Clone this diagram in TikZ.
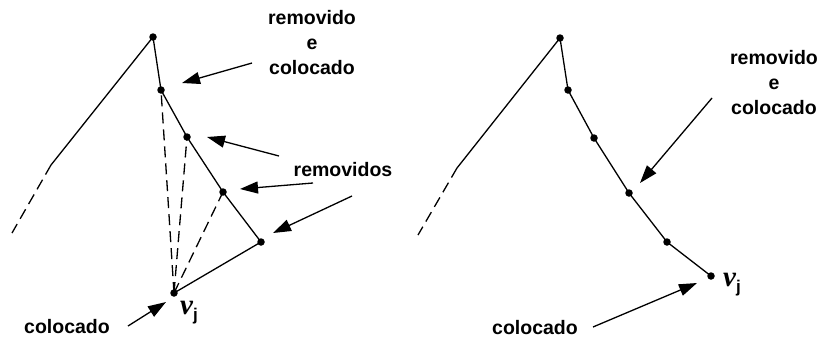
\documentclass[tikz,border=0pt]{standalone}
\usepackage{fontspec}
\setmainfont{Liberation Sans}
\newfontfamily\vjserif{Liberation Serif}
\usetikzlibrary{arrows.meta}
\tikzset{
  dot/.style={circle,fill=black,inner sep=0pt,minimum size=7.5pt},
  edge/.style={line width=1.3pt},
  dashedge/.style={line width=1.3pt,dash pattern=on 11pt off 6pt},
  pointer/.style={line width=1.3pt,-{Triangle[length=18pt,width=12pt]}},
  lbl/.style={font=\fontsize{19.5}{25}\selectfont\bfseries,align=center,inner sep=0pt},
  vlbl/.style={inner sep=0pt}
}
\newcommand{\vjlabel}{{\vjserif\fontsize{29}{29}\selectfont\bfseries\itshape v}\raisebox{-6pt}{\fontsize{17}{17}\selectfont\bfseries j}}
\begin{document}
\begin{tikzpicture}[x=1pt,y=-1pt]
\useasboundingbox (0,0) rectangle (818,338);
% ---------- left ----------
\node[dot] (la) at (153,37) {};
\node[dot] (lb) at (161,90) {};
\node[dot] (lc) at (187,137) {};
\node[dot] (ld) at (223,192) {};
\node[dot] (le) at (261,242) {};
\node[dot] (lv) at (174,293) {};
\coordinate (lk) at (51,165);
\coordinate (lt) at (12,233);
\draw[edge] (la.center) -- (lk);
\draw[dashedge] (lk) -- (lt);
\draw[edge] (la.center) -- (lb.center) -- (lc.center) -- (ld.center) -- (le.center) -- (lv.center);
\draw[dashedge] (lv.center) -- (lb.center);
\draw[dashedge] (lv.center) -- (lc.center);
\draw[dashedge] (lv.center) -- (ld.center);
\node[lbl] (ltop) at (312,43) {removido\\e\\colocado};
\node[lbl] (lrem) at (343,170) {removidos};
\node[lbl] (lcol) at (67,327) {colocado};
\node[vlbl] (lvj) at (189,313) {\vjlabel};
\coordinate (a1s) at (252,63);  \coordinate (a1e) at (182,83);
\coordinate (a2s) at (279,156); \coordinate (a2e) at (207,137);
\coordinate (a3s) at (313,183); \coordinate (a3e) at (240,189);
\coordinate (a4s) at (352,196); \coordinate (a4e) at (273,233);
\coordinate (a5s) at (128,326); \coordinate (a5e) at (166,302);
\draw[pointer] (a1s) -- (a1e);
\draw[pointer] (a2s) -- (a2e);
\draw[pointer] (a3s) -- (a3e);
\draw[pointer] (a4s) -- (a4e);
\draw[pointer] (a5s) -- (a5e);
% ---------- right ----------
\node[dot] (ra) at (560,38) {};
\node[dot] (rb) at (568,90) {};
\node[dot] (rc) at (594,138) {};
\node[dot] (rd) at (629,193) {};
\node[dot] (re) at (667,242) {};
\node[dot] (rv) at (711,276) {};
\coordinate (rk) at (457,168);
\coordinate (rt) at (418,235);
\draw[edge] (ra.center) -- (rk);
\draw[dashedge] (rk) -- (rt);
\draw[edge] (ra.center) -- (rb.center) -- (rc.center) -- (rd.center) -- (re.center) -- (rv.center);
\node[lbl] (rtop) at (774,83) {removido\\e\\colocado};
\node[lbl] (rcol) at (535,328) {colocado};
\node[vlbl] (rvj) at (732,285) {\vjlabel};
\coordinate (b1s) at (712,98);  \coordinate (b1e) at (640,183);
\coordinate (b2s) at (593,327); \coordinate (b2e) at (697,283);
\draw[pointer] (b1s) -- (b1e);
\draw[pointer] (b2s) -- (b2e);
\end{tikzpicture}
\end{document}
